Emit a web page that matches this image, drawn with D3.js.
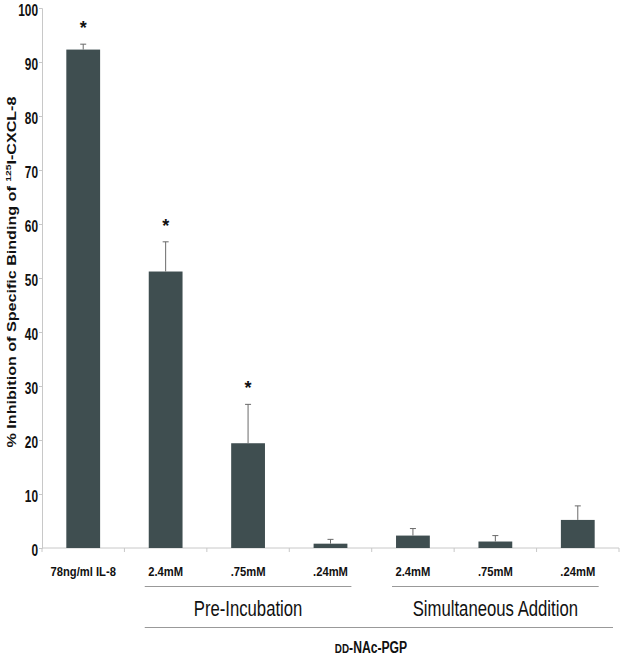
<!DOCTYPE html>
<html><head><meta charset="utf-8">
<script src="https://cdn.jsdelivr.net/npm/d3@7"></script>
<style>body{margin:0;background:#fff}svg{display:block}</style>
</head><body>
<script>
const categories = ["IL8","P2.4","P.75","P.24","S2.4","S.75","S.24"];
const tickLabels = ["78ng/ml IL-8","2.4mM",".75mM",".24mM","2.4mM",".75mM",".24mM"];
const values = [92.3, 51.2, 19.4, 0.8, 2.3, 1.2, 5.2];
const errors = [1.0, 5.5, 7.2, 0.8, 1.3, 1.1, 2.6];
const significant = [true, true, true, false, false, false, false];
const yTicks = [0,10,20,30,40,50,60,70,80,90,100];
const groups = [
  {label:"Pre-Incubation", from:1, to:3},
  {label:"Simultaneous Addition", from:4, to:6}
];

const W=624,H=660;
const FONT="'Liberation Sans',Arial,sans-serif";
const svg=d3.select("body").append("svg").attr("width",W).attr("height",H);
const x=d3.scaleBand().domain(categories).range([42,619]).paddingInner(0.59).paddingOuter(0.295);
const y=d3.scaleLinear().domain([0,100]).range([548,8]);
const SX=0.77; // horizontal compression of the lettering

function label(parent, px, py, sx, size, weight, anchor, txt){
  const g=parent.append("g").attr("transform",`translate(${px},${py}) scale(${sx},1)`);
  return g.append("text").attr("text-anchor",anchor).attr("font-family",FONT)
    .attr("font-weight",weight).attr("font-size",size).attr("fill","#111").text(txt);
}

// y axis
const yAxis=d3.axisLeft(y).tickValues(yTicks).tickSize(3).tickFormat(d3.format("d"));
const gy=svg.append("g").attr("transform","translate(42,0)").call(yAxis);
gy.select(".domain").attr("stroke","#c8c8c8");
gy.selectAll(".tick line").attr("stroke","#c8c8c8");
gy.selectAll(".tick text").attr("font-family",FONT).attr("font-weight","bold")
  .attr("font-size",16.5).attr("fill","#111").attr("x",-4/0.72).attr("dy","0.45em")
  .attr("transform","scale(0.72,1)");

// x axis
const xb=d3.scaleLinear().domain([0,categories.length]).range([42,619]);
const gx=svg.append("g").attr("transform","translate(0,548)");
gx.append("line").attr("x1",42).attr("x2",619).attr("stroke","#c8c8c8");
gx.selectAll("line.t").data(d3.range(categories.length+1)).join("line").attr("class","t")
  .attr("x1",d=>xb(d)).attr("x2",d=>xb(d)).attr("y1",0).attr("y2",4).attr("stroke","#c8c8c8");
categories.forEach((c,i)=>{
  label(gx, x(c)+x.bandwidth()/2, 27.5, 0.83, 13.5, "bold", "middle", tickLabels[i]);
});

// bars
svg.selectAll("rect.bar").data(values).join("rect").attr("class","bar")
  .attr("x",(d,i)=>x(categories[i])).attr("width",x.bandwidth())
  .attr("y",d=>y(d)).attr("height",d=>y(0)-y(d)).attr("fill","#3f4e50");

// error bars
const eg=svg.append("g").attr("stroke","#6a6a6a").attr("stroke-width",1);
values.forEach((v,i)=>{
  const cx=x(categories[i])+x.bandwidth()/2;
  eg.append("line").attr("x1",cx).attr("x2",cx).attr("y1",y(v)).attr("y2",y(v+errors[i]));
  eg.append("line").attr("x1",cx-3).attr("x2",cx+3).attr("y1",y(v+errors[i])).attr("y2",y(v+errors[i]));
});

// significance stars
values.forEach((v,i)=>{
  if(!significant[i]) return;
  svg.append("text").attr("x",x(categories[i])+x.bandwidth()/2).attr("y",y(v+errors[i])-10)
    .attr("text-anchor","middle").attr("font-family",FONT)
    .attr("font-weight","bold").attr("font-size",18).attr("fill","#111").text("*");
});

// group brackets
groups.forEach(g=>{
  const x1=x(categories[g.from])-4, x2=x(categories[g.to])+x.bandwidth()+4;
  svg.append("line").attr("x1",x1).attr("x2",x2).attr("y1",586.5).attr("y2",586.5).attr("stroke","#999");
  label(svg,(x1+x2)/2,616,0.76,22,"normal","middle",g.label);
});
svg.append("line").attr("x1",x(categories[1])-4).attr("x2",613).attr("y1",627.5).attr("y2",627.5).attr("stroke","#999");
const t=label(svg,371,653,0.76,16,"bold","middle","");
t.append("tspan").attr("font-size",13).text("DD");
t.append("tspan").text("-NAc-PGP");

// y axis title
const yl=svg.append("g").attr("transform","translate(16,272) rotate(-90) scale(1.29,1)")
  .append("text").attr("text-anchor","middle")
  .attr("font-family",FONT).attr("font-weight","bold").attr("font-size",12.5).attr("fill","#111");
yl.append("tspan").text("% Inhibition of Specific Binding of ");
yl.append("tspan").attr("font-size",8).attr("dy",-5).text("125");
yl.append("tspan").attr("dy",5).text("I-CXCL-8");
</script>
</body></html>
